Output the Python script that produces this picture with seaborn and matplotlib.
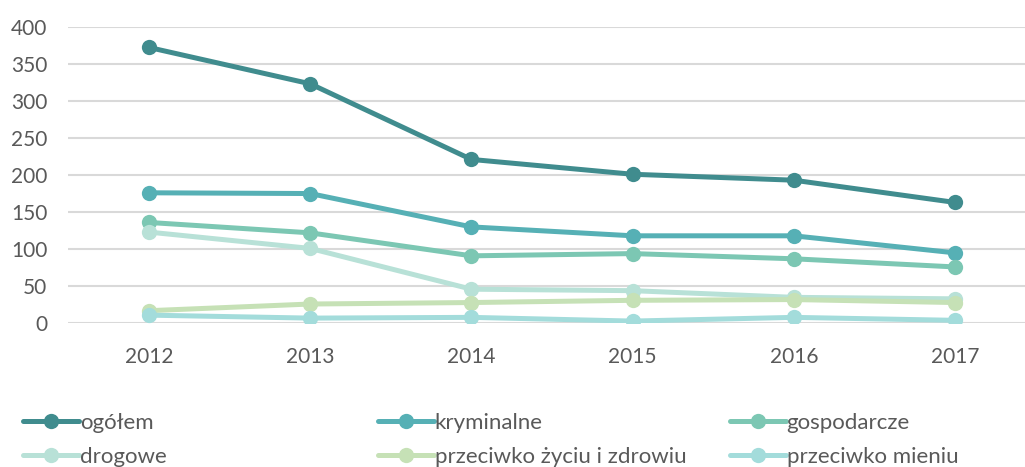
import matplotlib
matplotlib.use("Agg")
import matplotlib.pyplot as plt
import seaborn as sns
import pandas as pd

years = [2012, 2013, 2014, 2015, 2016, 2017]
series_names = ["ogółem", "kryminalne", "gospodarcze", "drogowe",
                "przeciwko życiu i zdrowiu", "przeciwko mieniu"]
ogolem = [372, 323, 221, 201, 193, 163]
kryminalne = [176, 175, 130, 118, 118, 95]
gospodarcze = [136, 122, 91, 94, 87, 76]
drogowe = [123, 101, 46, 44, 35, 33]
zycie = [17, 26, 28, 31, 32, 28]
mienie = [11, 7, 8, 3, 8, 4]
colors = ["#408c8e", "#56b0b5", "#7cc7b3", "#b8e1d7", "#c6e1b6", "#a3dcdb"]

values = [ogolem, kryminalne, gospodarcze, drogowe, zycie, mienie]
rows = []
for name, vals in zip(series_names, values):
    for y, v in zip(years, vals):
        rows.append({"rok": y, "wartość": v, "seria": name})
df = pd.DataFrame(rows)

sns.set_theme(style="white")
plt.rcParams['font.family'] = ['Lato', 'DejaVu Sans']
text_color = "#595959"

W, H = 1025, 467
fig = plt.figure(figsize=(W / 100, H / 100), dpi=100)
left, right, top, bottom = 68, 1025, 26.7, 323.3
ax = fig.add_axes([left / W, 1 - bottom / H, (right - left) / W, (bottom - top) / H])

sns.lineplot(data=df, x="rok", y="wartość", hue="seria", hue_order=series_names,
             palette=colors, marker="o", markersize=11, markeredgewidth=0,
             linewidth=3.6, ax=ax, legend=True)

ax.set_ylim(0, 400)
ax.set_yticks(range(0, 401, 50))
step = 161.2
ax.set_xlim(2012 - (149 - left) / step, 2012 + (right - 149) / step)
ax.set_xticks(years)
ax.set_xticklabels([str(y) for y in years])
ax.set_xlabel("")
ax.set_ylabel("")
for s in ax.spines.values():
    s.set_visible(False)
ax.grid(axis="y", color="#d9d9d9", linewidth=1.5)
ax.grid(axis="x", visible=False)
ax.set_axisbelow(True)
ax.tick_params(axis="both", length=0, labelsize=15, colors=text_color)
ax.tick_params(axis="y", pad=15)
ax.tick_params(axis="x", pad=17)

handles, labels = ax.get_legend_handles_labels()
ax.get_legend().remove()

col_x = [23, 378, 730]
for c in range(3):
    hs = [handles[c], handles[c + 3]]
    ls = [labels[c], labels[c + 3]]
    fig.legend(hs, ls, loc="upper left",
               bbox_to_anchor=(col_x[c] / W, 1 - 413 / H),
               frameon=False, fontsize=16, handlelength=2.5,
               handletextpad=0.05, labelspacing=0.62,
               borderpad=0, borderaxespad=0, labelcolor=text_color)

fig.savefig("out.png", dpi=100)
